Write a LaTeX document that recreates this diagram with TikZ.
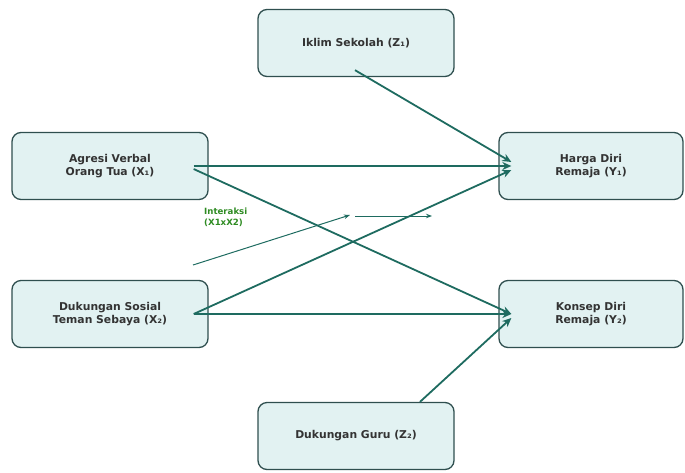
\documentclass[tikz,border=0pt]{standalone}
\usepackage{fontspec}
\setmainfont{DejaVu Sans}
\usetikzlibrary{arrows.meta}
\definecolor{boxline}{HTML}{2F4F4F}
\definecolor{boxfill}{HTML}{E2F2F2}
\definecolor{arrowteal}{HTML}{1E6B60}
\definecolor{txtgray}{HTML}{333333}
\definecolor{labgreen}{HTML}{2E8B22}
\begin{document}
\begin{tikzpicture} [x=1pt,y=-1pt]
\tikzstyle{var}=[draw=boxline,fill=boxfill,line width=1.3pt,rounded corners=9pt,
  minimum width=196pt,minimum height=67pt,align=center,text=txtgray,font=\bfseries\fontsize{10.8}{13}\selectfont]
\tikzstyle{path}=[draw=arrowteal,line width=1.8pt,-{Stealth[length=9pt,width=8pt]}]
\tikzstyle{thin path}=[draw=arrowteal,line width=1pt,-{Stealth[length=6pt,width=4.5pt]}]
\useasboundingbox (0,0) rectangle (685,472);
% variables
\node[var] (iklim) at (356,43) {Iklim Sekolah (Z₁)};
\node[var] (agresi) at (110,166) {Agresi Verbal\\Orang Tua (X₁)};
\node[var] (dukungan) at (110,314) {Dukungan Sosial\\Teman Sebaya (X₂)};
\node[var,minimum width=184pt] (harga) at (591,166) {Harga Diri\\Remaja (Y₁)};
\node[var,minimum width=184pt] (konsep) at (591,314) {Konsep Diri\\Remaja (Y₂)};
\node[var] (guru) at (356,436) {Dukungan Guru (Z₂)};
% interaction
\node[text=labgreen,font=\bfseries\fontsize{8.6}{11}\selectfont,align=left,anchor=north west,inner sep=0pt] (interaksi) at (204,208) {Interaksi\\(X1xX2)};
\coordinate (intA) at (193,265);
\coordinate (intB) at (350,215);
\coordinate (intC) at (355,216);
\coordinate (intD) at (432,216);
% paths
\draw[path] ([xshift=-1pt,yshift=7pt]iklim.south) -- ([xshift=13pt,yshift=4pt]harga.west);
\draw[path] ([xshift=-15pt]agresi.east) -- ([xshift=13pt]harga.west);
\draw[path] ([xshift=-15pt,yshift=-3pt]agresi.east) -- ([xshift=13pt]konsep.west);
\draw[path] ([xshift=-15pt]dukungan.east) -- ([xshift=13pt,yshift=-4pt]harga.west);
\draw[path] ([xshift=-15pt]dukungan.east) -- ([xshift=13pt]konsep.west);
\draw[path] ([xshift=64pt]guru.north) -- ([xshift=13pt,yshift=-4pt]konsep.west);
\draw[thin path] (intA) -- (intB);
\draw[thin path] (intC) -- (intD);
\end{tikzpicture}
\end{document}
